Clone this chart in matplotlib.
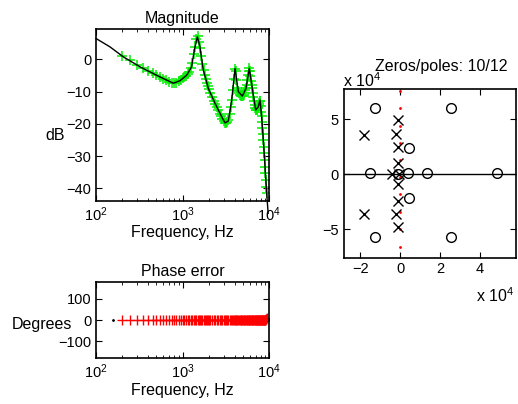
import numpy as np
import matplotlib
matplotlib.use('Agg')
import matplotlib.pyplot as plt
from matplotlib.ticker import LogLocator, NullFormatter

plt.rcParams['font.family'] = ['Liberation Sans', 'DejaVu Sans']
plt.rcParams['mathtext.fontset'] = 'custom'
plt.rcParams['mathtext.rm'] = 'Liberation Sans'

# fitted model response (black line)
fit_f = [100, 145, 207, 323, 500, 783, 936, 1117, 1274, 1370, 1484, 1592, 1740,
         1988, 2375, 2840, 3100, 3388, 3705, 4050, 4420, 4915, 5420, 5920, 6410,
         7020, 7520, 7870, 8230, 8600, 9000, 9400, 9780]
fit_db = [6.5, 3.9, 0.8, -2.3, -4.9, -7.4, -6.6, -4.9, -2.3, 2.9, 7.0, 3.9, -3.3,
          -9.0, -13.6, -17.8, -19.7, -19.1, -12.6, -2.8, -10.0, -11.4, -9.0, -2.8, -9.0,
          -15.7, -14.7, -12.6, -18.0, -25.0, -33.3, -41.6, -47.8]

# measured points (green +, red + for phase error)
meas_f = [200, 250, 300, 350, 400, 450, 500, 550, 600, 650, 700, 750, 800, 850, 900, 950,
          1000, 1050, 1100, 1150, 1200, 1250, 1300, 1350, 1400, 1450, 1500, 1550,
          1600, 1650, 1700, 1750, 1800, 1850, 1900, 1950, 2000,
          2100, 2200, 2300, 2400, 2500, 2600, 2700, 2800, 2900, 3000,
          3100, 3200, 3300, 3400, 3500, 3600, 3700, 3800, 3900, 4000,
          4100, 4200, 4300, 4400, 4500, 4600, 4700, 4800, 4900, 5000,
          5100, 5200, 5300, 5400, 5500, 5600, 5700, 5800, 5900, 6000,
          6100, 6200, 6300, 6400, 6500, 6600, 6700, 6800, 6900, 7000,
          7100, 7200, 7300, 7400, 7500, 7600, 7700, 7800, 7900, 8000,
          8100, 8200, 8300, 8400, 8500, 8600, 8700, 8800, 8900, 9000,
          9100, 9200, 9300, 9400]
meas_db = [1.1, -0.3, -1.7, -2.8, -3.6, -4.3, -4.9, -5.5, -6.0, -6.5, -6.9, -7.2, -7.4, -7.2, -6.8, -6.3,
           -5.7, -5.4, -5.0, -4.5, -3.8, -2.8, -1.0, 1.8, 4.0, 6.2, 7.2, 5.5,
           3.5, 1.0, -1.5, -3.3, -4.8, -6.1, -7.3, -8.3, -9.1,
           -10.5, -11.8, -12.9, -13.8, -14.8, -15.8, -16.8, -17.6, -18.5, -19.2,
           -19.7, -19.8, -19.5, -18.8, -17.0, -14.8, -12.7, -9.5, -6.0, -3.0,
           -3.5, -6.5, -8.8, -9.9, -10.5, -10.9, -11.2, -11.4, -11.4, -11.3,
           -10.9, -10.3, -9.6, -9.0, -7.8, -6.3, -4.8, -3.5, -2.8, -3.6,
           -5.0, -6.6, -8.0, -9.0, -10.3, -11.6, -12.9, -14.0, -15.0, -15.7,
           -15.8, -15.6, -15.3, -15.0, -14.7, -14.2, -13.5, -12.8, -12.9, -14.5,
           -16.2, -17.6, -19.3, -21.2, -23.2, -25.0, -27.1, -29.2, -31.2, -33.3,
           -35.4, -37.5, -39.5, -41.6]
phase_err = [0, 0, 0, 0, 0, 0, 0, 0, 0, 0, 0, 0, 0, 0, 0, 0,
             0, 0, 0, 0, 0, 0, 0, 0, 0, 0, 0, 0,
             0, 0, 0, 0, 0, 0, 0, 0, 0,
             0, 0, 0, 0, 0, 0, 0, 0, 0, 0,
             0, 0, 0, 0, 0, 0, 0, 0, 0, 0,
             0, 0, 0, 0, 0, 0, 0, 0, 0, 0,
             0, 0, 0, 0, 0, 0, 0, 0, 0, 0,
             0, 0, 0, 0, 0, 0, 0, 0, 0, 0,
             0, 0, 0, 0, 0, 0, 0, 0, 0, 0,
             0, 0, 0, 0, 0, 0, 0, 0, 0, 0,
             1, 3, 6, 10]

# zeros and poles, units of 1e4
zeros_re = [-1.27, 2.56, -1.27, 2.56, 0.46, 0.46, -1.49, -0.1, 0.38, 1.37, 4.84]
zeros_im = [6.0, 6.0, -5.65, -5.65, 2.36, -2.15, 0.1, 0.05, 0.1, 0.1, 0.1]
poles_re = [-1.82, -1.82, -0.11, -0.11, -0.21, -0.21, -0.08, -0.08, -0.08, -0.08, -0.42, -0.05]
poles_im = [3.57, -3.64, 4.94, -4.76, 3.63, -3.64, 2.51, -2.43, 1.0, -0.91, 0.0, 0.0]
jw_im = [7.6, 6.0, 4.4, 2.85, 1.3, -0.25, -1.8, -3.4, -5.0, -6.6]

W, H = 518, 404
fig = plt.figure(figsize=(W / 100, H / 100), dpi=100)


def box(l, t, r, b):
    return [l / W, 1 - b / H, (r - l) / W, (b - t) / H]


def style(ax):
    ax.tick_params(direction='in', which='both', top=True, right=True, labelsize=10.5)
    ax.tick_params(which='major', length=4)
    ax.tick_params(which='minor', length=2)
    for s in ax.spines.values():
        s.set_linewidth(1.2)


# magnitude
ax1 = fig.add_axes(box(96, 28.5, 269, 200.5))
ax1.semilogx(fit_f, fit_db, color='black', lw=1, clip_on=False, zorder=3)
ax1.semilogx(meas_f, meas_db, '+', color='#00ee00', ms=6.5, mew=1.1, zorder=2)
ax1.set_xlim(100, 1e4)
ax1.set_ylim(-43.8, 9.6)
ax1.set_yticks([0, -10, -20, -30, -40])
ax1.xaxis.set_minor_locator(LogLocator(subs=np.arange(2, 10)))
ax1.xaxis.set_minor_formatter(NullFormatter())
style(ax1)
ax1.set_title('Magnitude', fontsize=11.5, pad=4)
ax1.set_xlabel('Frequency, Hz', fontsize=11.5, labelpad=1)
fig.text(65 / W, 1 - 135 / H, 'dB', fontsize=11.5, ha='right', va='center')

# phase error
ax2 = fig.add_axes(box(96, 282, 269, 358))
ax2.semilogx(meas_f, phase_err, '+', color='red', ms=7, mew=1)
ax2.semilogx([158], [0], '.', color='black', ms=2)
ax2.set_xlim(100, 1e4)
ax2.set_ylim(-180, 180)
ax2.set_yticks([100, 0, -100])
ax2.xaxis.set_minor_locator(LogLocator(subs=np.arange(2, 10)))
ax2.xaxis.set_minor_formatter(NullFormatter())
style(ax2)
ax2.set_title('Phase error', fontsize=11.5, pad=4)
ax2.set_xlabel('Frequency, Hz', fontsize=11.5, labelpad=1)
fig.text(72 / W, 1 - 324 / H, 'Degrees', fontsize=11.5, ha='right', va='center')

# zeros / poles
ax3 = fig.add_axes(box(343.5, 89, 516, 257.5))
ax3.axhline(0, color='black', lw=1)
ax3.plot([0] * len(jw_im), jw_im, '.', color='red', ms=2)
ax3.plot(zeros_re, zeros_im, 'o', mfc='none', mec='black', ms=7, mew=1)
ax3.plot(poles_re, poles_im, 'x', color='black', ms=7.5, mew=1)
ax3.set_xlim(-2.83, 5.8)
ax3.set_ylim(-7.55, 7.75)
ax3.set_xticks([-2, 0, 2, 4])
ax3.set_yticks([-5, 0, 5])
style(ax3)
fig.text(441 / W, 1 - 67 / H, 'Zeros/poles: 10/12', fontsize=11.5, ha='center', va='center')
fig.text(343 / W, 1 - 81 / H, 'x 10$^4$', fontsize=11.5, ha='left', va='center')
fig.text(514 / W, 1 - 296 / H, 'x 10$^4$', fontsize=11.5, ha='right', va='center')

fig.savefig('out.png', dpi=100)
